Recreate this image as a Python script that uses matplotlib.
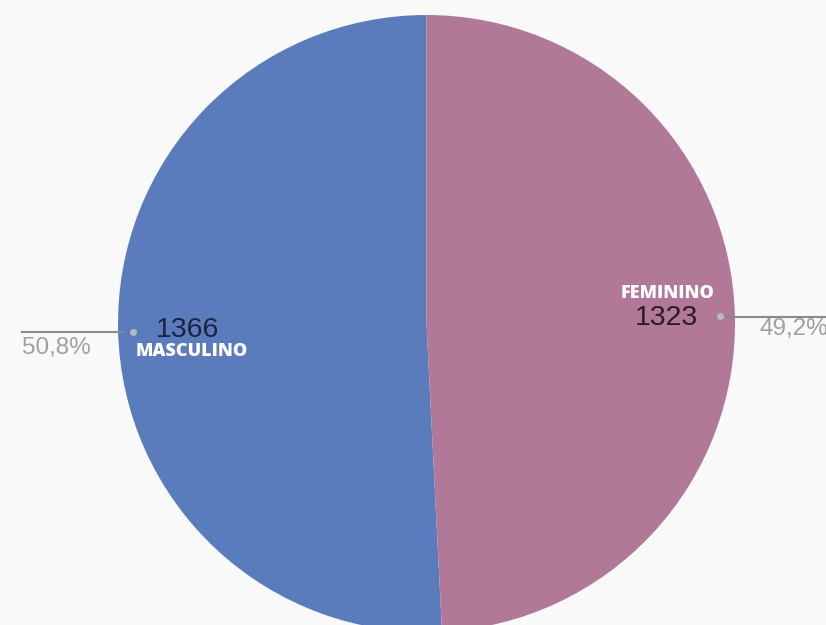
import matplotlib
matplotlib.use('Agg')
import matplotlib.pyplot as plt

# datos
generos = ['MASCULINO', 'FEMININO']
totais = [1366, 1323]
percentuais = ['50,8%', '49,2%']
cores = ['#5b7cbc', '#b27898']

H = 625
fig = plt.figure(figsize=(8.26, 6.25), dpi=100)
fig.patch.set_facecolor('#f9f9f9')
ax = fig.add_axes([0, 0, 1, 1])
ax.set_facecolor('#f9f9f9')

# pie in pixel-like coordinates (y measured from bottom)
cx, cy, r = 426.5, H - 323.5, 308.5
ax.pie(totais, colors=cores, startangle=90, counterclock=True,
       center=(cx, cy), radius=r, wedgeprops=dict(linewidth=0))

ax.set_xlim(0, 826)
ax.set_ylim(0, H)
ax.set_aspect('equal')
ax.axis('off')

num_font = dict(family='Liberation Sans', fontsize=20.5)
pct_font = dict(family='Liberation Sans', fontsize=17.5, color='#a0a0a0')
lab_font = dict(family='Open Sans', fontsize=13, weight='heavy', color='white')

# MASCULINO (left)
ax.plot([22, 122], [H - 332, H - 332], color='#8a8a8a', lw=1.5)
ax.plot(133, H - 332, 'o', ms=5, color='#b8b8c0', mec='none')
ax.text(187.5, H - 330, str(totais[0]), ha='center', va='center',
        color='#1b2340', **num_font)
ax.text(192, H - 352, generos[0], ha='center', va='center', **lab_font)
ax.text(22, H - 348, percentuais[0], ha='left', va='center', **pct_font)

# FEMININO (right)
ax.plot([727, 826], [H - 317, H - 317], color='#8a8a8a', lw=1.5)
ax.plot(720, H - 316, 'o', ms=5, color='#b8b8c0', mec='none')
ax.text(666.5, H - 318, str(totais[1]), ha='center', va='center',
        color='#2a1a2c', **num_font)
ax.text(667, H - 294, generos[1], ha='center', va='center', **lab_font)
# cut off at the right edge, as in the reference
ax.text(760, H - 329, percentuais[1], ha='left', va='center', **pct_font)

plt.savefig('out.png', dpi=100, facecolor=fig.get_facecolor())
